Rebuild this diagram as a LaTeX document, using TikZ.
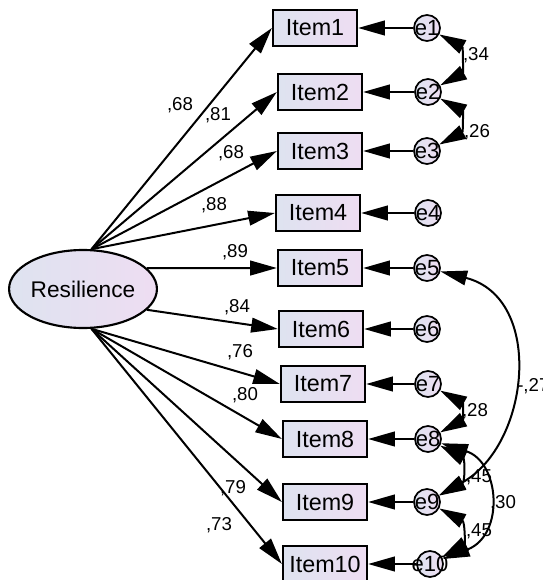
\documentclass[tikz,border=0pt]{standalone}
\usepackage{fontspec}
\setmainfont{Liberation Sans}
\usetikzlibrary{arrows.meta,shapes.geometric}
\definecolor{fillL}{RGB}{222,227,240}
\definecolor{fillR}{RGB}{238,221,242}
\begin{document}
\begin{tikzpicture}[x=0.75pt,y=-0.75pt,
 itembox/.style={draw,line width=1.7pt,minimum width=63pt,minimum height=27pt,inner sep=0pt,left color=fillL,right color=fillR,font=\fontsize{17.5}{19}\selectfont},
 errc/.style={draw,circle,line width=1.3pt,minimum size=19.5pt,inner sep=0pt,left color=fillL,right color=fillR,font=\fontsize{16.5}{18}\selectfont},
 latent/.style={draw,ellipse,line width=1.6pt,minimum width=107pt,minimum height=58.5pt,inner sep=0pt,left color=fillL,right color=fillR,font=\fontsize{17}{19}\selectfont},
 regarrow/.style={line width=1.5pt,-{Triangle[length=20pt,width=11pt]}},
 covarrow/.style={line width=1.5pt,{Triangle[length=20pt,width=11pt]}-{Triangle[length=20pt,width=11pt]}},
 coef/.style={font=\fontsize{14}{16}\selectfont,inner sep=0pt}]
\useasboundingbox (0,0) rectangle (542,580);
% latent
\node[latent] (res) at (83,289) {Resilience};
% items
\node[itembox] (i1) at (315,28) {Item1};
\node[itembox] (i2) at (320,92) {Item2};
\node[itembox] (i3) at (320,151) {Item3};
\node[itembox] (i4) at (318,213) {Item4};
\node[itembox] (i5) at (320,268) {Item5};
\node[itembox] (i6) at (321,329) {Item6};
\node[itembox] (i7) at (323,384) {Item7};
\node[itembox] (i8) at (325,439) {Item8};
\node[itembox] (i9) at (325,502) {Item9};
\node[itembox] (i10) at (325,564) {Item10};
% errors
\node[errc] (e1) at (427,28) {\makebox[0pt]{e1}};
\node[errc] (e2) at (428,92) {\makebox[0pt]{e2}};
\node[errc] (e3) at (427,151) {\makebox[0pt]{e3}};
\node[errc] (e4) at (428,213) {\makebox[0pt]{e4}};
\node[errc] (e5) at (427,268) {\makebox[0pt]{e5}};
\node[errc] (e6) at (427,329) {\makebox[0pt]{e6}};
\node[errc] (e7) at (428,384) {\makebox[0pt]{e7}};
\node[errc] (e8) at (428,439) {\makebox[0pt]{e8}};
\node[errc] (e9) at (427,502) {\makebox[0pt]{e9}};
\node[errc] (e10) at (430,564) {\makebox[0pt]{e10}};
% loadings
\draw[regarrow] (res.78) -- (i1.west);
\draw[regarrow] (res.78) -- (i2.west);
\draw[regarrow] (res.78) -- (i3.west);
\draw[regarrow] (res.78) -- (i4.west);
\draw[regarrow] (res.18) -- (i5.west);
\draw[regarrow] (res.-18) -- (i6.west);
\draw[regarrow] (res.-78) -- (i7.west);
\draw[regarrow] (res.-78) -- (i8.west);
\draw[regarrow] (res.-78) -- (i9.west);
\draw[regarrow] (res.-78) -- (i10.west);
% error paths
\foreach \k in {1,...,10}{\draw[regarrow] (e\k) -- (i\k.east);}
% covariances
\draw[covarrow] (e1) .. controls (463,47) and (463,73) .. (e2);
\draw[covarrow] (e2) .. controls (463,111) and (463,132) .. (e3);
\draw[covarrow] (e7) .. controls (463,403) and (463,420) .. (e8);
\draw[covarrow] (e8) .. controls (465,459) and (465,482) .. (e9);
\draw[covarrow] (e9) .. controls (465,522) and (465,544) .. (e10);
\draw[covarrow] (e8) .. controls (500,462) and (505,535) .. (e10);
\draw[covarrow] (e5) .. controls (545,298) and (530,445) .. (e9);
% loading labels
\node[coef] (l1) at (180,105) {,68};
\node[coef] (l2) at (218,115) {,81};
\node[coef] (l3) at (231,153) {,68};
\node[coef] (l4) at (214,205) {,88};
\node[coef] (l5) at (235,252) {,89};
\node[coef] (l6) at (237,307) {,84};
\node[coef] (l7) at (240,352) {,76};
\node[coef] (l8) at (245,395) {,80};
\node[coef] (l9) at (233,488) {,79};
\node[coef] (l10) at (219,525) {,73};
% covariance labels
\node[coef] (c12) at (476,55) {,34};
\node[coef] (c23) at (477,132) {,26};
\node[coef,anchor=west] (c59) at (517,386) {-,27};
\node[coef] (c78) at (475,411) {,28};
\node[coef] (c89) at (479,477) {,45};
\node[coef] (c810) at (503,503) {,30};
\node[coef] (c910) at (479,531) {,45};
\end{tikzpicture}
\end{document}
